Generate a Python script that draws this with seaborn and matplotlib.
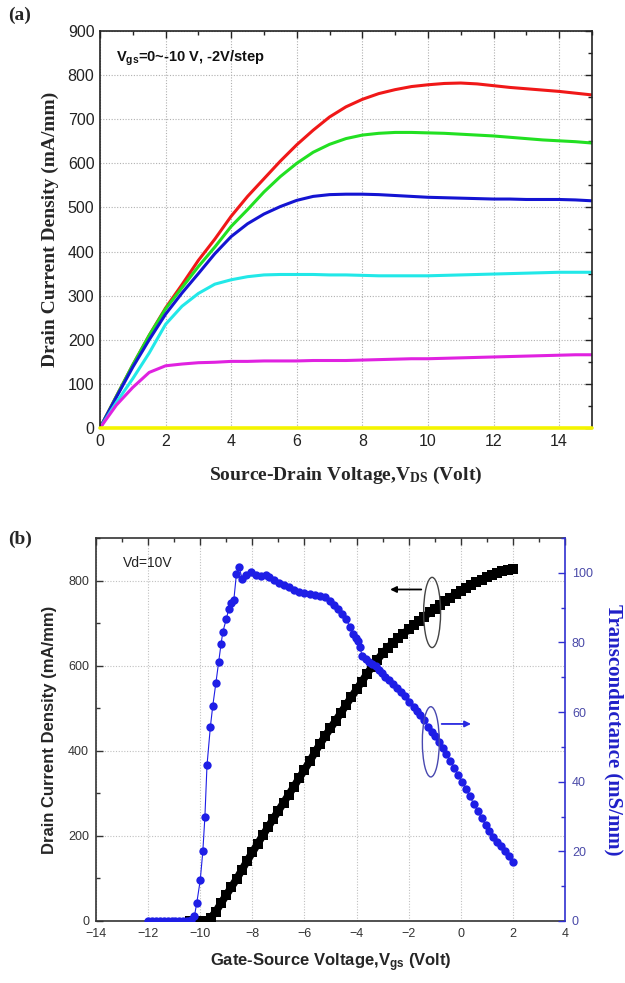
import numpy as np
import pandas as pd
import matplotlib
matplotlib.use("Agg")
import matplotlib.pyplot as plt
from matplotlib.patches import Ellipse
from matplotlib.ticker import MultipleLocator
import seaborn as sns

sns.set_theme(style="white")
plt.rcParams["font.family"] = ["Liberation Sans", "DejaVu Sans"]
plt.rcParams["mathtext.default"] = "regular"

SERIF = ["Liberation Serif", "DejaVu Serif"]
SANS = ["Liberation Sans", "DejaVu Sans"]

# (a) output curves, Vgs = 0 ... -10 V, -2 V/step

vds = [0, 0.5, 1, 1.5, 2, 2.5, 3, 3.5, 4, 4.5, 5, 5.5, 6, 6.5, 7, 7.5,
       8, 8.5, 9, 9.5, 10, 10.5, 11, 11.5, 12, 12.5, 13, 13.5, 14, 14.5, 15]

id_0v = [0, 72, 143, 210, 272, 325, 380, 428, 480, 525, 565, 605, 642, 675, 705, 728,
         745, 758, 767, 774, 778, 781, 782, 780, 776, 772, 769, 766, 763, 759, 755]
id_m2v = [0, 72, 143, 210, 270, 318, 366, 410, 457, 495, 535, 570, 600, 625, 643, 656,
          664, 668, 670, 670, 669, 668, 666, 664, 662, 659, 656, 653, 651, 649, 646]
id_m4v = [0, 70, 138, 200, 258, 306, 350, 395, 434, 463, 485, 502, 516, 525, 529, 530,
          530, 529, 527, 525, 523, 522, 521, 520, 519, 519, 518, 518, 518, 517, 515]
id_m6v = [0, 58, 112, 170, 235, 276, 305, 326, 336, 343, 347, 348, 348, 348, 347, 347,
          346, 345, 345, 345, 345, 346, 347, 348, 349, 350, 351, 352, 353, 353, 353]
id_m8v = [0, 52, 92, 126, 141, 145, 148, 149, 151, 151, 152, 152, 152, 153, 153, 153,
          154, 155, 156, 157, 157, 158, 159, 160, 161, 162, 163, 164, 165, 166, 166]
id_m10v = [0] * len(vds)

vgs_steps = ["0 V", "-2 V", "-4 V", "-6 V", "-8 V", "-10 V"]
line_colors = ["#f01818", "#22e022", "#1414d2", "#22e8e8", "#e022e0", "#f4f400"]

# (b) transfer curve at Vd = 10 V

vgs_id = [-10.4, -10.2, -10.0, -9.8, -9.6, -9.4, -9.2, -9.0, -8.8, -8.6, -8.4, -8.2,
          -8.0, -7.8, -7.6, -7.4, -7.2, -7.0, -6.8, -6.6, -6.4, -6.2, -6.0, -5.8,
          -5.6, -5.4, -5.2, -5.0, -4.8, -4.6, -4.4, -4.2, -4.0, -3.8, -3.6, -3.4,
          -3.2, -3.0, -2.8, -2.6, -2.4, -2.2, -2.0, -1.8, -1.6, -1.4, -1.2, -1.0,
          -0.8, -0.6, -0.4, -0.2, 0.0, 0.2, 0.4, 0.6, 0.8, 1.0, 1.2, 1.4, 1.6, 1.8, 2.0]
id_transfer = [0, 0, 0, 1, 7, 22, 42, 61, 80, 99, 120, 141,
               161, 181, 201, 220, 240, 259, 278, 297, 316, 336, 355, 375,
               396, 416, 435, 453, 471, 489, 508, 526, 544, 562, 581, 598,
               614, 629, 642, 654, 665, 675, 685, 695, 705, 715, 725, 734,
               743, 752, 760, 768, 776, 783, 790, 796, 802, 808, 813, 818, 822, 825, 828]

vgs_gm = [-12.0, -11.85, -11.7, -11.55, -11.4, -11.25, -11.1, -10.95, -10.8, -10.65,
          -10.5, -10.35, -10.22, -10.13, -10.0, -9.9, -9.82, -9.74, -9.61, -9.52,
          -9.4, -9.29, -9.2, -9.13, -9.0, -8.91, -8.82, -8.71, -8.61, -8.51,
          -8.39, -8.24, -8.06, -7.87, -7.68, -7.49, -7.36, -7.16, -6.97, -6.78,
          -6.59, -6.4, -6.2, -6.0, -5.8, -5.6, -5.4, -5.2, -5.0, -4.85,
          -4.7, -4.55, -4.4, -4.25, -4.12, -4.02, -3.95, -3.87, -3.78, -3.65,
          -3.53, -3.4, -3.27, -3.15, -3.02, -2.9, -2.76, -2.6, -2.45, -2.3,
          -2.13, -1.97, -1.81, -1.68, -1.55, -1.4, -1.24, -1.1, -0.98, -0.85,
          -0.7, -0.55, -0.4, -0.25, -0.1, 0.05, 0.2, 0.35, 0.5, 0.65,
          0.8, 0.95, 1.1, 1.25, 1.4, 1.55, 1.7, 1.85, 2.0]
gm = [0, 0, 0, 0, 0, 0, 0, 0, 0, 0,
      0, 0.3, 1.5, 5.3, 11.7, 20, 30, 44.7, 55.8, 61.7,
      68.3, 74.5, 79.6, 83.1, 86.7, 89.5, 91.3, 92.2, 99.7, 101.8,
      98.2, 99.4, 100.2, 99.4, 99.1, 99.4, 98.9, 97.8, 97.2, 96.6,
      95.9, 95.1, 94.6, 94.2, 94.0, 93.6, 93.3, 93.0, 91.8, 90.8,
      89.5, 88.2, 86.6, 84.5, 82.5, 81.2, 80.5, 78.6, 76.0, 75.2,
      74.5, 73.7, 73.1, 72.1, 71.2, 70.2, 69.3, 68.1, 66.9, 65.8,
      64.5, 63.0, 61.6, 60.4, 59.2, 57.6, 55.8, 54.3, 53.0, 51.5,
      49.8, 48.0, 46.0, 44.0, 42.0, 40.0, 38.0, 35.8, 33.6, 31.6,
      29.6, 27.6, 25.8, 24.2, 22.8, 21.5, 20.2, 18.7, 17.0]

df_a = pd.DataFrame({
    "vds": vds * 6,
    "id": id_0v + id_m2v + id_m4v + id_m6v + id_m8v + id_m10v,
    "vgs": [v for v in vgs_steps for _ in vds],
})

fig = plt.figure(figsize=(6.25, 9.83), dpi=100)
ax1 = fig.add_axes([0.160, 0.5646, 0.787, 0.4039])
ax2 = fig.add_axes([0.1536, 0.0631, 0.7504, 0.3896])


def style_frame(ax, color="#222222"):
    for s in ax.spines.values():
        s.set_color(color)
        s.set_linewidth(1.2)
        s.set_visible(True)


# ---- panel (a)
sns.lineplot(data=df_a, x="vds", y="id", hue="vgs", hue_order=vgs_steps,
             palette=dict(zip(vgs_steps, line_colors)), linewidth=2.2,
             legend=False, ax=ax1)
# the -10 V trace sits on the axis; keep it visible over the spine
ax1.lines[-1].set_clip_on(False)
ax1.lines[-1].set_zorder(3)
ax1.lines[-1].set_linewidth(2.6)

ax1.set_xlim(0, 15)
ax1.set_ylim(0, 900)
ax1.xaxis.set_major_locator(MultipleLocator(2))
ax1.xaxis.set_minor_locator(MultipleLocator(1))
ax1.yaxis.set_major_locator(MultipleLocator(100))
ax1.yaxis.set_minor_locator(MultipleLocator(50))
ax1.tick_params(which="both", direction="in", top=True, right=True,
                labelsize=11.5, labelcolor="#222222", color="#222222", width=1)
ax1.tick_params(which="major", length=5, pad=4)
ax1.tick_params(which="minor", length=3)
ax1.grid(True, which="major", ls=(0, (1, 1.5)), color="#b0b0b0", lw=0.8)
ax1.set_axisbelow(True)
style_frame(ax1)
ax1.set_xlabel("Source-Drain Voltage,V$_{\\mathregular{DS}}$ (Volt)",
               family=SERIF, weight="bold", fontsize=14, labelpad=12)
ax1.set_ylabel("Drain Current Density (mA/mm)",
               family=SERIF, weight="bold", fontsize=14, labelpad=6)
ax1.text(0.5, 838, "V$_{\\mathregular{gs}}$=0~-10 V, -2V/step",
         family=SANS, weight="bold", fontsize=10.5, va="center", color="#111111")
fig.text(0.013, 0.984, "(a)", family=SERIF, weight="bold", fontsize=14, va="center")

# ---- panel (b)
ax2r = ax2.twinx()
sns.lineplot(x=vgs_id, y=id_transfer, sort=False, color="black", linewidth=5.5,
             marker="s", markersize=7, markeredgewidth=0, ax=ax2, zorder=3)
sns.lineplot(x=vgs_gm, y=gm, sort=False, color="#1e1ee6", linewidth=0.8,
             marker="o", markersize=6, markeredgewidth=0, ax=ax2r, zorder=4)

ax2.set_xlim(-14, 4)
ax2.set_ylim(0, 900)
ax2r.set_ylim(0, 110)
ax2.xaxis.set_major_locator(MultipleLocator(2))
ax2.xaxis.set_minor_locator(MultipleLocator(1))
ax2.yaxis.set_major_locator(MultipleLocator(200))
ax2.yaxis.set_minor_locator(MultipleLocator(100))
ax2r.yaxis.set_major_locator(MultipleLocator(20))
ax2r.yaxis.set_minor_locator(MultipleLocator(10))
ax2.tick_params(which="both", direction="in", top=True, right=False,
                labelsize=9, labelcolor="#333333", color="#333333", width=1)
ax2.tick_params(which="major", length=5, pad=5)
ax2.tick_params(which="minor", length=3)
ax2r.tick_params(which="both", direction="in", labelsize=9,
                 labelcolor="#4a4aa8", color="#3030d0", width=1)
ax2r.tick_params(which="major", length=5, pad=5)
ax2r.tick_params(which="minor", length=3)
ax2.grid(True, which="major", ls=(0, (1, 1.5)), color="#c0c0c0", lw=0.8)
ax2.set_axisbelow(True)
style_frame(ax2, "#333333")
ax2.spines["right"].set_visible(False)
for name, s in ax2r.spines.items():
    s.set_visible(name == "right")
ax2r.spines["right"].set_color("#3030d0")
ax2r.spines["right"].set_linewidth(1.2)

ax2.set_xlabel("Gate-Source Voltage,V$_{\\mathregular{gs}}$ (Volt)",
               family=SANS, weight="bold", fontsize=12, labelpad=8)
ax2.set_ylabel("Drain Current Density (mA/mm)",
               family=SANS, weight="bold", fontsize=12, labelpad=8)
ax2r.set_ylabel("Transconductance (mS/mm)", family=SERIF, weight="bold",
                fontsize=15, color="#2020c8", rotation=270, labelpad=22)

ax2.text(-12.95, 842, "Vd=10V", family=SANS, fontsize=10, va="center", color="#222222")

# ellipses and arrows pointing to each axis (drawn on the right axes, left-axis data coords)
to_left = ax2.transData
ax2r.add_patch(Ellipse((-1.1, 725), 0.65, 165, fill=False, ec="#444444", lw=1,
                       transform=to_left, zorder=5))
ax2r.annotate("", xy=(-2.82, 779), xytext=(-1.41, 779), xycoords=to_left,
              textcoords=to_left,
              arrowprops=dict(arrowstyle="-|>", color="black", lw=1.3,
                              mutation_scale=9), zorder=5)
ax2r.add_patch(Ellipse((-1.15, 421), 0.65, 165, fill=False, ec="#4848b0", lw=1,
                       transform=to_left, zorder=5))
ax2r.annotate("", xy=(0.5, 463), xytext=(-0.84, 463), xycoords=to_left,
              textcoords=to_left,
              arrowprops=dict(arrowstyle="-|>", color="#2a2ae0", lw=1.3,
                              mutation_scale=9), zorder=5)

fig.text(0.013, 0.451, "(b)", family=SERIF, weight="bold", fontsize=14, va="center")

plt.savefig("out.png", dpi=100)
